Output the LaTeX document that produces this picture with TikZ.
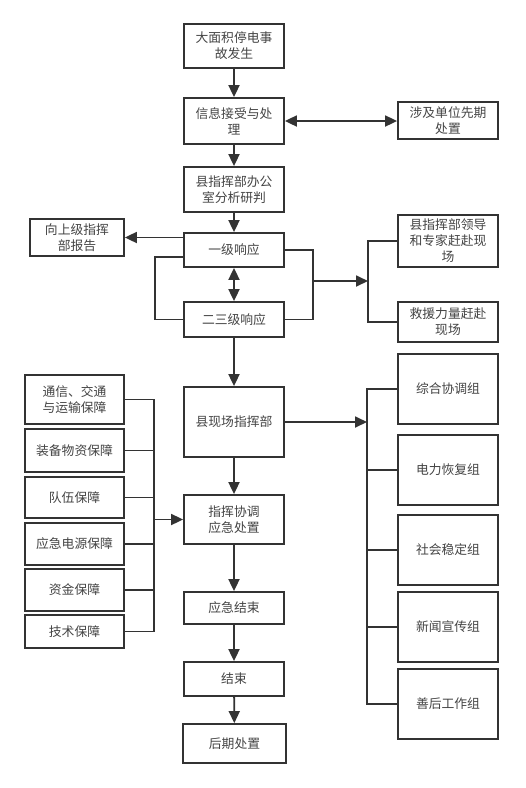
\documentclass[tikz,border=0pt]{standalone}
\usepackage{fontspec}
\setmainfont{Noto Sans CJK SC}
\usetikzlibrary{arrows.meta}
\definecolor{ln}{HTML}{333333}
\definecolor{tx}{HTML}{444444}
\begin{document}
\begin{tikzpicture}[x=1pt,y=-1pt,
  box/.style={draw=ln,line width=1.8pt,fill=white,text=tx,align=center,inner sep=0pt,
    font=\fontsize{12.8}{16}\selectfont,minimum width=100pt},
  conn/.style={draw=ln,line width=1.8pt},
  arr/.style={conn,-{Triangle[length=12pt,width=11pt]}},
  darr/.style={conn,{Triangle[length=12pt,width=11pt]}-{Triangle[length=12pt,width=11pt]}}]
\useasboundingbox[fill=white] (0,0) rectangle (526,788);
% central column
\node[box,minimum height=44pt] (n1) at (234,46) {大面积停电事\\故发生};
\node[box,minimum height=46pt] (n2) at (234,121) {信息接受与处\\理};
\node[box,minimum height=45pt] (n3) at (234,189.5) {县指挥部办公\\室分析研判};
\node[box,minimum height=34pt] (l1) at (234,250) {一级响应};
\node[box,minimum height=35pt] (l23) at (234,319.5) {二三级响应};
\node[box,minimum height=70pt] (site) at (234,422) {县现场指挥部};
\node[box,minimum height=49pt] (cmd) at (234,519.5) {指挥协调\\应急处置};
\node[box,minimum height=32pt] (e1) at (234,608) {应急结束};
\node[box,minimum height=34pt] (e2) at (234,679) {结束};
\node[box,minimum height=39pt,minimum width=103pt] (post) at (234.5,743.5) {后期处置};
% right side
\node[box,minimum height=37pt] (r1) at (448,120.5) {涉及单位先期\\处置};
\node[box,minimum height=52pt] (lead) at (448,241) {县指挥部领导\\和专家赶赴现\\场};
\node[box,minimum height=40pt] (resc) at (448,322) {救援力量赶赴\\现场};
\node[box,minimum height=70pt] (g1) at (448,389) {综合协调组};
\node[box,minimum height=70pt] (g2) at (448,470) {电力恢复组};
\node[box,minimum height=70pt] (g3) at (448,550) {社会稳定组};
\node[box,minimum height=70pt] (g4) at (448,627) {新闻宣传组};
\node[box,minimum height=70pt] (g5) at (448,704) {善后工作组};
% left side
\node[box,minimum height=37pt,minimum width=94pt] (up) at (77,237.5) {向上级指挥\\部报告};
\node[box,minimum height=49pt,minimum width=99pt] (s1) at (74.5,399.5) {通信、交通\\与运输保障};
\node[box,minimum height=43pt,minimum width=99pt] (s2) at (74.5,450.5) {装备物资保障};
\node[box,minimum height=41pt,minimum width=99pt] (s3) at (74.5,497.5) {队伍保障};
\node[box,minimum height=42pt,minimum width=99pt] (s4) at (74.5,544) {应急电源保障};
\node[box,minimum height=42pt,minimum width=99pt] (s5) at (74.5,590) {资金保障};
\node[box,minimum height=33pt,minimum width=99pt] (s6) at (74.5,631.5) {技术保障};
% helper coordinates
\coordinate (a) at (155,257);
\coordinate (b) at (313,281);
\coordinate (c) at (368,281);
\coordinate (d) at (367,422);
\coordinate (e) at (154,519.5);
% central connectors
\draw[arr] (n1) -- (n2);
\draw[darr] (n2.east) -- (r1.west |- n2.east);
\draw[arr] (n2) -- (n3);
\draw[arr] (n3) -- (l1);
\draw[arr] (up.east -| l1.west) -- (up.east);
\draw[darr] (l1) -- (l23);
\draw[conn] (l1.west |- a) -- (a) -- (a |- l23.west) -- (l23.west);
\draw[conn] (l1.east) -| (b) |- (l23.east);
\draw[arr] (b) -- (c);
\draw[conn] (lead.west) -| (c) |- (resc.west);
\draw[arr] (l23) -- (site);
\draw[arr] (site.east) -- (d);
\draw[conn] (g1.west) -| (d) |- (g5.west);
\draw[conn] (g2.west) -- (g2.west -| d);
\draw[conn] (g3.west) -- (g3.west -| d);
\draw[conn] (g4.west) -- (g4.west -| d);
\draw[arr] (site) -- (cmd);
\draw[conn] (s1.east) -| (e) |- (s6.east);
\draw[conn] (s2.east) -- (s2.east -| e);
\draw[conn] (s3.east) -- (s3.east -| e);
\draw[conn] (s4.east) -- (s4.east -| e);
\draw[conn] (s5.east) -- (s5.east -| e);
\draw[arr] (e) -- (cmd.west);
\draw[arr] (cmd) -- (e1);
\draw[arr] (e1) -- (e2);
\draw[arr] (e2) -- (post);
\end{tikzpicture}
\end{document}
